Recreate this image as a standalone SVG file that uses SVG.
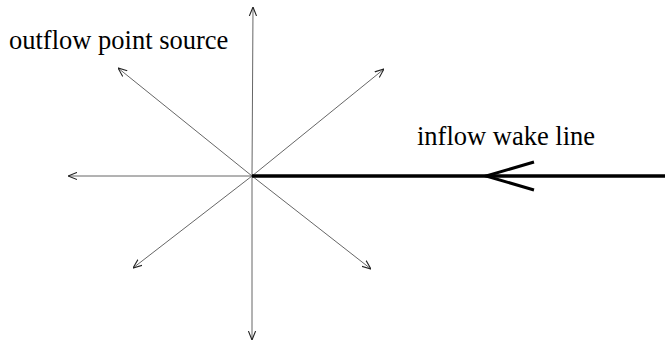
<svg xmlns="http://www.w3.org/2000/svg" width="665" height="341" viewBox="0 0 665 341">
<style>
.ray{stroke:#555;stroke-width:0.9;fill:none}
.lbl{font-family:"Liberation Serif","Times New Roman",serif;font-size:26.5px;fill:#000}
</style>
<defs>
<marker id="ah" viewBox="0 0 10 10" refX="10" refY="5" markerWidth="9" markerHeight="9" markerUnits="userSpaceOnUse" orient="auto">
<path d="M0,1 L10,5 L0,9" fill="none" stroke="#222" stroke-width="1.2"/>
</marker>
</defs>
<rect width="665" height="341" fill="#fff"/>
<g id="connectors">
<line class="ray" x1="252" y1="176" x2="253" y2="7" marker-end="url(#ah)"/>
<line class="ray" x1="252" y1="176" x2="252" y2="340" marker-end="url(#ah)"/>
<line class="ray" x1="252" y1="176" x2="68" y2="176" marker-end="url(#ah)"/>
<line class="ray" x1="252" y1="176" x2="118" y2="68" marker-end="url(#ah)"/>
<line class="ray" x1="252" y1="176" x2="384" y2="69" marker-end="url(#ah)"/>
<line class="ray" x1="252" y1="176" x2="133" y2="268" marker-end="url(#ah)"/>
<line class="ray" x1="252" y1="176" x2="371" y2="269" marker-end="url(#ah)"/>
<line x1="252" y1="176" x2="665" y2="176" stroke="#000" stroke-width="3.5"/>
<polyline points="534,162 486,176 534,190" fill="none" stroke="#000" stroke-width="3"/>
</g>
<g id="source-label"><text class="lbl" x="9" y="49">outflow point source</text></g>
<g id="wake-label"><text class="lbl" x="417" y="145">inflow wake line</text></g>
</svg>
